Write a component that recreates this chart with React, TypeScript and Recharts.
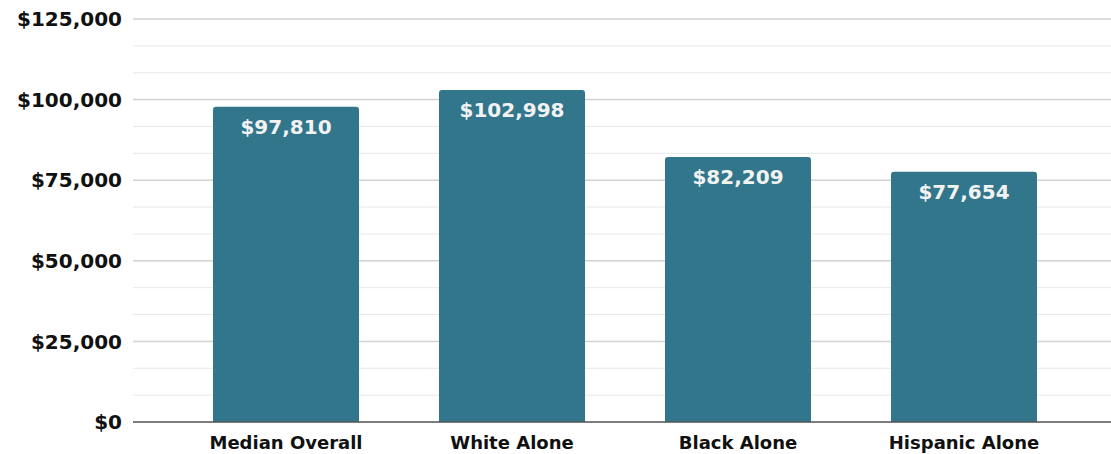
import React from "react";
import {
  BarChart,
  Bar,
  XAxis,
  YAxis,
  CartesianGrid,
  LabelList,
} from "recharts";

const categories = ["Median Overall", "White Alone", "Black Alone", "Hispanic Alone"];
const incomes = [97810, 102998, 82209, 77654];
const majorTicks = [0, 25000, 50000, 75000, 100000, 125000];
const gridTicks = [
  0, 8333, 16667, 25000, 33333, 41667, 50000, 58333, 66667, 75000, 83333,
  91667, 100000, 108333, 116667, 125000,
];

const data = categories.map((name, i) => ({ name, value: incomes[i] }));

const FONT = "'DejaVu Sans', Verdana, sans-serif";
const money = (v: number) => "$" + v.toLocaleString("en-US");

export default function App() {
  return (
    <div style={{ position: "absolute", left: 0, top: 0, width: 1111, height: 454, background: "#fff" }}>
      <BarChart
        width={1111}
        height={454}
        data={data}
        margin={{ top: 19, right: 0, bottom: 0, left: 0 }}
        barCategoryGap={40}
      >
        <CartesianGrid vertical={false} stroke="#e8e8e8" horizontalValues={gridTicks} />
        <CartesianGrid vertical={false} stroke="#d4d4d4" strokeWidth={1.5} horizontalValues={majorTicks.slice(1)} />
        <XAxis
          dataKey="name"
          height={32}
          padding={{ left: 40, right: 34 }}
          tickLine={false}
          axisLine={{ stroke: "#555", strokeWidth: 1.5 }}
          tick={{ fill: "#111", fontSize: 18, fontWeight: 700, fontFamily: FONT }}
          tickMargin={8}
        />
        <YAxis
          width={133}
          domain={[0, 125000]}
          ticks={majorTicks}
          tickFormatter={money}
          axisLine={false}
          tickLine={false}
          tickMargin={5}
          tick={{ fill: "#111", fontSize: 20, fontWeight: 700, fontFamily: FONT }}
        />
        <Bar dataKey="value" fill="#31768b" radius={[3, 3, 0, 0]} isAnimationActive={false}>
          <LabelList
            dataKey="value"
            position="insideTop"
            offset={13}
            formatter={(v: any) => money(Number(v))}
            fill="#f2f2f2"
            style={{ fontSize: 20, fontWeight: 700, fontFamily: FONT }}
          />
        </Bar>
      </BarChart>
    </div>
  );
}
